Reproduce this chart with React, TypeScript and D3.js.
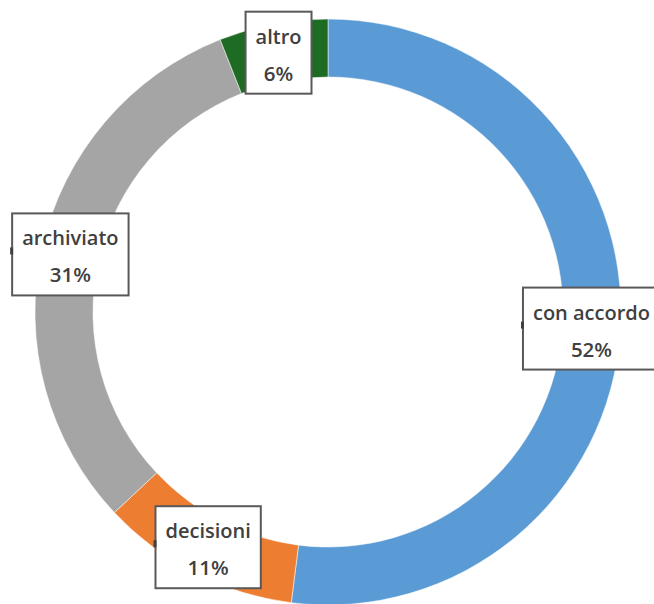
import React, { useLayoutEffect, useRef, useState } from "react";
import * as d3 from "d3";

const categories = ["con accordo", "decisioni", "archiviato", "altro"];
const values = [52, 11, 31, 6];
const percentLabels = ["52%", "11%", "31%", "6%"];
const colors = ["#5B9BD5", "#ED7D31", "#A5A5A5", "#1E6B24"];

const W = 654;
const H = 604;
const cx = 328;
const cy = 312;
const outerR = 293;
const innerR = 235;

export default function App() {
  const textRefs = useRef<(SVGTextElement | null)[]>([]);
  const [widths, setWidths] = useState<number[]>(categories.map(() => 100));

  useLayoutEffect(() => {
    const w = textRefs.current.map((t) => (t ? t.getBBox().width : 100));
    setWidths(w);
  }, []);

  const pie = d3
    .pie<number>()
    .sort(null)
    .value((d) => d)(values);
  const arc = d3.arc<d3.PieArcDatum<number>>().innerRadius(innerR).outerRadius(outerR);

  const boxH = 82;
  const pad = 10;

  return (
    <svg
      width={W}
      height={H}
      style={{ position: "absolute", left: 0, top: 0, display: "block" }}
    >
      <rect x={0} y={0} width={W} height={H} fill="#fff" />
      <g transform={`translate(${cx},${cy})`}>
        {pie.map((p, i) => (
          <path key={i} d={arc(p) || ""} fill={colors[i]} stroke="#fff" strokeWidth={0.5} />
        ))}
        {pie.map((p, i) => {
          const [lx, ly] = arc.centroid(p);
          const bw = widths[i] + pad * 2;
          return (
            <g key={"l" + i} transform={`translate(${lx},${ly})`}>
              <rect
                x={-bw / 2}
                y={-boxH / 2}
                width={bw}
                height={boxH}
                fill="#fff"
                stroke="#595959"
                strokeWidth={2}
              />
              {i !== 3 && (
                <rect x={-bw / 2 - 2} y={-7} width={3} height={7} fill="#404040" />
              )}
              <text
                ref={(el) => {
                  textRefs.current[i] = el;
                }}
                x={0}
                y={-9}
                textAnchor="middle"
                fontFamily="'Open Sans', sans-serif"
                fontWeight={600}
                fontSize={20}
                fill="#404040"
              >
                {categories[i]}
              </text>
              <text
                x={0}
                y={28}
                textAnchor="middle"
                fontFamily="'Open Sans', sans-serif"
                fontWeight={600}
                fontSize={20.5}
                fill="#404040"
              >
                {percentLabels[i]}
              </text>
            </g>
          );
        })}
      </g>
    </svg>
  );
}
